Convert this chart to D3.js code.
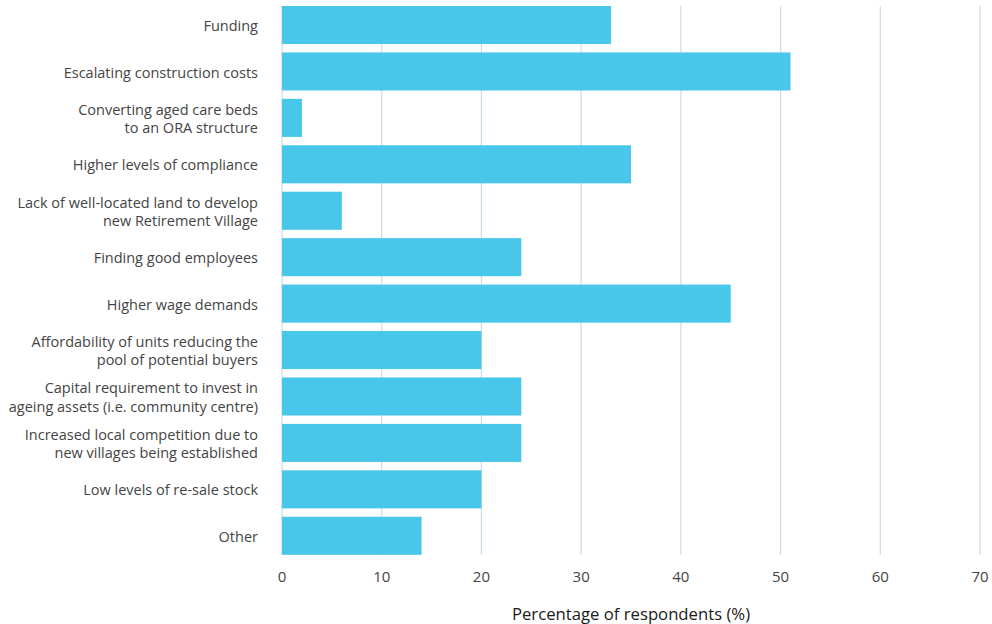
<!DOCTYPE html>
<html>
<head>
<meta charset="utf-8">
<script src="https://cdn.jsdelivr.net/npm/d3@7"></script>
<style>
  body { margin: 0; background: #fff; }
  text { font-family: "Open Sans", sans-serif; }
</style>
</head>
<body>
<svg id="chart" width="992" height="624"></svg>
<script>
const categories = [
  ["Funding"],
  ["Escalating construction costs"],
  ["Converting aged care beds", "to an ORA structure"],
  ["Higher levels of compliance"],
  ["Lack of well-located land to develop", "new Retirement Village"],
  ["Finding good employees"],
  ["Higher wage demands"],
  ["Affordability of units reducing the", "pool of potential buyers"],
  ["Capital requirement to invest in", "ageing assets (i.e. community centre)"],
  ["Increased local competition due to", "new villages being established"],
  ["Low levels of re-sale stock"],
  ["Other"]
];
const values = [33, 51, 2, 35, 6, 24, 45, 20, 24, 24, 20, 14];
const ticks = [0, 10, 20, 30, 40, 50, 60, 70];
const axisTitle = "Percentage of respondents (%)";

const svg = d3.select('#chart');

const x = d3.scaleLinear()
  .domain([0, 70])
  .range([282, 980]);

const y = d3.scaleBand()
  .domain(d3.range(categories.length))
  .range([1.8, 559])
  .paddingInner(0.18)
  .paddingOuter(0.09);

const gridTop = y(0);
const gridBottom = y(categories.length - 1) + y.bandwidth();

// gridlines
svg.append('g')
  .selectAll('line')
  .data(ticks)
  .enter()
    .append('line')
    .attr('x1', d => x(d))
    .attr('x2', d => x(d))
    .attr('y1', gridTop)
    .attr('y2', gridBottom)
    .attr('stroke', '#c9dce6')
    .attr('stroke-width', 1.2);

// bars
svg.append('g')
  .selectAll('rect')
  .data(values)
  .enter()
    .append('rect')
    .attr('x', x(0))
    .attr('y', (d, i) => y(i))
    .attr('width', d => x(d) - x(0))
    .attr('height', y.bandwidth())
    .attr('fill', '#49c7ea');

// category labels
const labels = svg.append('g')
  .selectAll('text')
  .data(categories)
  .enter()
    .append('text')
    .attr('text-anchor', 'end')
    .attr('font-size', 14.5)
    .attr('fill', '#444');

labels.each(function (lines, i) {
  const cy = y(i) + y.bandwidth() / 2 + 1;
  const lh = 18.5;
  const start = cy - (lines.length - 1) * lh / 2;
  d3.select(this).selectAll('tspan')
    .data(lines)
    .enter()
      .append('tspan')
      .attr('x', 258)
      .attr('y', (d, j) => start + j * lh)
      .attr('dy', '0.35em')
      .text(d => d);
});

// x axis tick labels
svg.append('g')
  .selectAll('text')
  .data(ticks)
  .enter()
    .append('text')
    .attr('x', d => x(d))
    .attr('y', 577)
    .attr('dy', '0.35em')
    .attr('text-anchor', 'middle')
    .attr('font-size', 15)
    .attr('fill', '#444')
    .text(d => d);

// axis title
svg.append('text')
  .attr('x', (x(0) + x(70)) / 2)
  .attr('y', 614)
  .attr('dy', '0.35em')
  .attr('text-anchor', 'middle')
  .attr('font-size', 16.7)
  .attr('fill', '#1a1a1a')
  .text(axisTitle);
</script>
</body>
</html>
